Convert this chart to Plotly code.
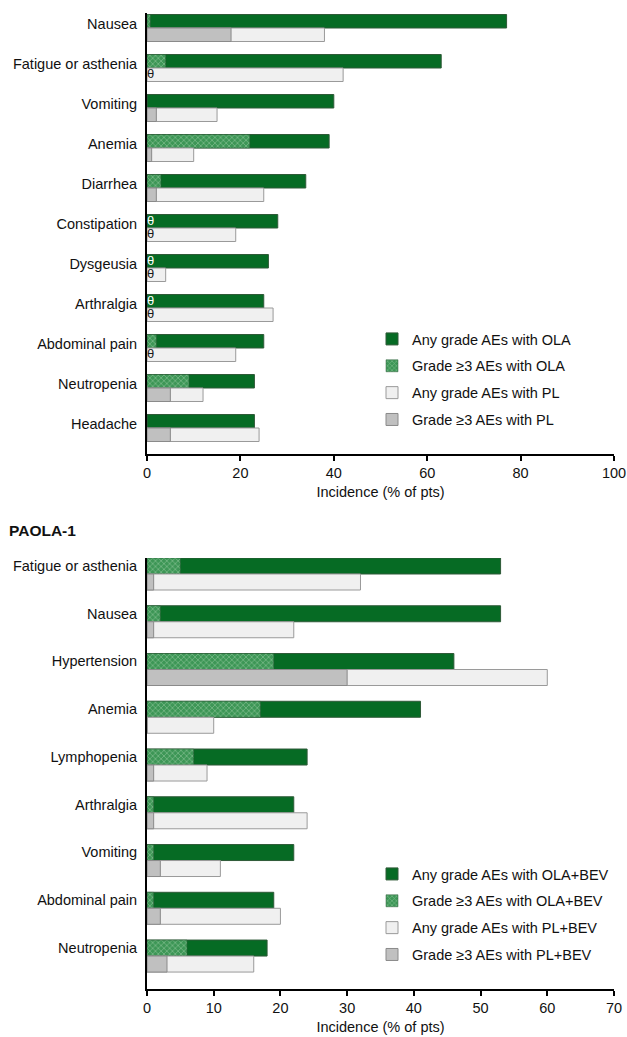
import plotly.graph_objects as go

# ---- SOLO2 panel (top) ----
top_categories = ["Nausea", "Fatigue or asthenia", "Vomiting", "Anemia", "Diarrhea",
                  "Constipation", "Dysgeusia", "Arthralgia", "Abdominal pain",
                  "Neutropenia", "Headache"]
top_ola_any = [77, 63, 40, 39, 34, 28, 26, 25, 25, 23, 23]
top_ola_g3 = [0.7, 4, 0, 22, 3, None, None, None, 2, 9, 0]      # None -> θ
top_pl_any = [38, 42, 15, 10, 25, 19, 4, 27, 19, 12, 24]
top_pl_g3 = [18, None, 2, 1, 2, None, None, None, None, 5, 5]   # None -> θ
top_ticks = [0, 20, 40, 60, 80, 100]

# ---- PAOLA-1 panel (bottom) ----
bot_categories = ["Fatigue or asthenia", "Nausea", "Hypertension", "Anemia",
                  "Lymphopenia", "Arthralgia", "Vomiting", "Abdominal pain",
                  "Neutropenia"]
bot_ola_any = [53, 53, 46, 41, 24, 22, 22, 19, 18]
bot_ola_g3 = [5, 2, 19, 17, 7, 1, 1, 1, 6]
bot_pl_any = [32, 22, 60, 10, 9, 24, 11, 20, 16]
bot_pl_g3 = [1, 1, 30, 0, 1, 1, 2, 2, 3]
bot_ticks = [0, 10, 20, 30, 40, 50, 60, 70]

W, H = 627, 1037
FONT = "Liberation Sans, Arial, sans-serif"
FS = 14.5

GREEN = "#066b24"
GREEN_EDGE = "#2f5a38"
PAT_BG = "#3d9656"
PAT_FG = "#b3ddba"
PL_ANY = "#f0f0f0"
PL_ANY_EDGE = "#9a9a9a"
PL_G3 = "#c0c0c0"
PL_G3_EDGE = "#8a8a8a"


def px_x(p):
    return p / W


def px_y(p):
    return 1 - p / H


fig = go.Figure()


def add_panel(cats, ola_any, ola_g3, pl_any, pl_g3, xa, ya, legend, names, bar_w):
    idx = list(range(len(cats)))
    common = dict(orientation="h", xaxis=xa, yaxis=ya, legend=legend, width=bar_w)
    # upper bar of each pair: olaparib
    fig.add_trace(go.Bar(x=ola_any, y=idx, offset=-bar_w, name=names[0],
                         marker=dict(color=GREEN, line=dict(color=GREEN_EDGE, width=1)),
                         legendgroup=legend + "a", **common))
    fig.add_trace(go.Bar(x=ola_g3, y=idx, offset=-bar_w, name=names[1],
                         marker=dict(color=PAT_BG, line=dict(color=GREEN_EDGE, width=0.5),
                                     pattern=dict(shape="x", bgcolor=PAT_BG, fgcolor=PAT_FG,
                                                  size=4, solidity=0.35)),
                         legendgroup=legend + "b", **common))
    # lower bar of each pair: placebo
    fig.add_trace(go.Bar(x=pl_any, y=idx, offset=0, name=names[2],
                         marker=dict(color=PL_ANY, line=dict(color=PL_ANY_EDGE, width=1)),
                         legendgroup=legend + "c", **common))
    fig.add_trace(go.Bar(x=pl_g3, y=idx, offset=0, name=names[3],
                         marker=dict(color=PL_G3, line=dict(color=PL_G3_EDGE, width=1)),
                         legendgroup=legend + "d", **common))
    # θ markers where no grade ≥3 event was recorded
    for vals, off, col in ((ola_g3, -bar_w / 2, "white"), (pl_g3, bar_w / 2, "#1a1a1a")):
        ys = [i + off for i, v in zip(idx, vals) if v is None]
        if ys:
            fig.add_trace(go.Scatter(x=[0] * len(ys), y=ys, mode="text", text=["θ"] * len(ys),
                                     textposition="middle right", cliponaxis=False,
                                     textfont=dict(family=FONT, size=13, color=col),
                                     showlegend=False, hoverinfo="skip",
                                     xaxis=xa, yaxis=ya))


add_panel(top_categories, top_ola_any, top_ola_g3, top_pl_any, top_pl_g3,
          "x", "y", "legend",
          ["Any grade AEs with OLA", "Grade ≥3 AEs with OLA",
           "Any grade AEs with PL", "Grade ≥3 AEs with PL"], 0.3375)
add_panel(bot_categories, bot_ola_any, bot_ola_g3, bot_pl_any, bot_pl_g3,
          "x2", "y2", "legend2",
          ["Any grade AEs with OLA+BEV", "Grade ≥3 AEs with OLA+BEV",
           "Any grade AEs with PL+BEV", "Grade ≥3 AEs with PL+BEV"], 0.335)

axis_line = dict(showline=True, linecolor="black", linewidth=2, showgrid=False,
                 zeroline=False, tickfont=dict(family=FONT, size=FS, color="#111"))

xdom = [px_x(147), px_x(614)]

fig.update_layout(
    width=W, height=H,
    margin=dict(l=0, r=0, t=0, b=0, autoexpand=False),
    paper_bgcolor="white", plot_bgcolor="white",
    barmode="overlay",
    font=dict(family=FONT, size=FS, color="#111"),
    xaxis=dict(domain=xdom, range=[0, 100], tickvals=top_ticks, ticks="outside",
               ticklen=5, tickwidth=1.5, tickcolor="black", anchor="y",
               title=dict(text="Incidence (% of pts)", standoff=6,
                          font=dict(family=FONT, size=FS)),
               **axis_line),
    yaxis=dict(domain=[px_y(454), px_y(13)], range=[10.65, -0.375],
               tickvals=[i - 0.1 for i in range(len(top_categories))],
               ticktext=top_categories, ticks="", ticklabelstandoff=5, anchor="x",
               **axis_line),
    xaxis2=dict(domain=xdom, range=[0, 70], tickvals=bot_ticks, ticks="outside",
                ticklen=5, tickwidth=1.5, tickcolor="black", anchor="y2",
                title=dict(text="Incidence (% of pts)", standoff=6,
                           font=dict(family=FONT, size=FS)),
                **axis_line),
    yaxis2=dict(domain=[px_y(989), px_y(558)], range=[8.69, -0.335],
                tickvals=[i - 0.17 for i in range(len(bot_categories))],
                ticktext=bot_categories, ticks="", ticklabelstandoff=5, anchor="x2",
                **axis_line),
    legend=dict(x=px_x(372), y=px_y(323), xanchor="left", yanchor="top",
                bgcolor="rgba(0,0,0,0)", tracegroupgap=5,
                font=dict(family=FONT, size=FS, color="#111")),
    legend2=dict(x=px_x(372), y=px_y(858), xanchor="left", yanchor="top",
                 bgcolor="rgba(0,0,0,0)", tracegroupgap=5,
                 font=dict(family=FONT, size=FS, color="#111")),
    annotations=[dict(text="<b>PAOLA-1</b>", x=px_x(7), y=px_y(530), xref="paper",
                      yref="paper", xanchor="left", yanchor="middle", showarrow=False,
                      font=dict(family=FONT, size=15.5, color="#111"))],
)

fig.write_html("out.html")
